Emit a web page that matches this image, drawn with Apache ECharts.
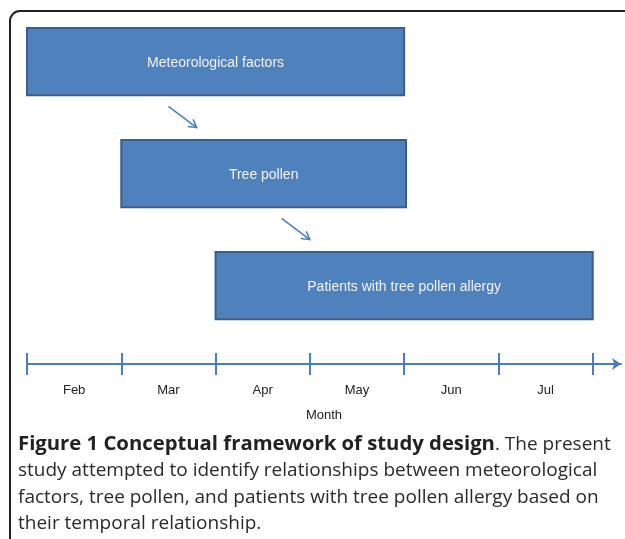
<!DOCTYPE html>
<html>
<head>
<meta charset="utf-8">
<script src="https://cdn.jsdelivr.net/npm/echarts@6/dist/echarts.min.js"></script>
<style>
  html, body { margin: 0; padding: 0; background: #fff; }
  #main { width: 625px; height: 539px; }
</style>
</head>
<body>
<div id="main"></div>
<script>
// timeline months (one band per month)
var months = ['Feb', 'Mar', 'Apr', 'May', 'Jun', 'Jul'];
var tickValues = [0, 1, 2, 3, 4, 5, 6];
var labelValues = [0.5, 1.5, 2.5, 3.5, 4.5, 5.5];

// boxes: label, start month, end month, row
var boxLabels = ['Meteorological factors', 'Tree pollen', 'Patients with tree pollen allergy'];
var boxStart = [0, 1, 2];
var boxEnd = [4, 4.02, 6];
var boxRow = [3, 2, 1];

// arrows between boxes
var arrowFrom = [[1.5, 2.6], [2.7, 1.6]];
var arrowTo = [[1.8, 2.41], [3.0, 1.41]];

var blue = '#4A7EBB';
var boxData = boxLabels.map(function (name, i) {
	return [boxStart[i], boxEnd[i], boxRow[i], name];
});
var arrowData = arrowFrom.map(function (p, i) {
	return [p[0], p[1], arrowTo[i][0], arrowTo[i][1]];
});

var chart = echarts.init(document.getElementById('main'));

chart.setOption({
	animation: false,
	grid: { left: 27, right: 4, top: 5.6, bottom: 175 },
	xAxis: [{
		type: 'value', min: 0, max: 6.3, interval: 1,
		axisLine: { show: true, onZero: false, symbol: ['none', 'arrow'], symbolSize: [9, 9],
			lineStyle: { color: blue, width: 2 } },
		axisTick: { show: true, customValues: tickValues, length: 11, lineStyle: { color: blue, width: 2 } },
		axisLabel: { customValues: labelValues, margin: 20, color: '#222', fontSize: 13,
			fontFamily: 'Liberation Sans, Arial',
			formatter: function (v) { return months[Math.round(v - 0.5)]; } },
		splitLine: { show: false },
		name: 'Month', nameLocation: 'middle', nameGap: 45,
		nameTextStyle: { color: '#222', fontSize: 13, fontFamily: 'Liberation Sans, Arial' }
	}, {
		type: 'value', min: 0, max: 6.3, interval: 1, position: 'bottom', offset: 0,
		axisLine: { show: false, onZero: false },
		axisTick: { show: true, inside: true, customValues: tickValues, length: 11, lineStyle: { color: blue, width: 2 } },
		axisLabel: { show: false },
		splitLine: { show: false }
	}],
	yAxis: { type: 'value', min: 0.3, max: 3.5, show: false },
	graphic: [{
		type: 'rect',
		shape: { x: 10, y: 11, width: 700, height: 600, r: [10, 0, 0, 0] },
		style: { fill: 'none', stroke: '#222', lineWidth: 2 },
		silent: true
	}, {
		type: 'text',
		left: 18, top: 431,
		style: {
			text: '{b|Figure 1 Conceptual framework of study design}. The present\n' +
				'study attempted to identify relationships between meteorological\n' +
				'factors, tree pollen, and patients with tree pollen allergy based on\n' +
				'their temporal relationship.',
			fill: '#2a2a2a',
			fontSize: 19,
			fontFamily: 'Open Sans',
			lineHeight: 26.5,
			rich: {
				b: { fontWeight: 'bold', fontSize: 20.3, fontFamily: 'Open Sans', lineHeight: 26.5, fill: '#222' }
			}
		}
	}],
	series: [{
		type: 'custom',
		data: boxData,
		renderItem: function (params, api) {
			var p0 = api.coord([api.value(0), api.value(2) + 0.3]);
			var p1 = api.coord([api.value(1), api.value(2) - 0.3]);
			return {
				type: 'group',
				children: [{
					type: 'rect',
					shape: { x: p0[0], y: p0[1], width: p1[0] - p0[0], height: p1[1] - p0[1] },
					style: { fill: '#4F81BD', stroke: '#3A5F8B', lineWidth: 2 }
				}, {
					type: 'text',
					x: (p0[0] + p1[0]) / 2, y: (p0[1] + p1[1]) / 2 + 1.5,
					style: { text: boxData[params.dataIndex][3], fill: '#F2F2F2', fontSize: 14,
						fontFamily: 'Liberation Sans, Arial', align: 'center', verticalAlign: 'middle' }
				}]
			};
		}
	}, {
		type: 'custom',
		data: arrowData,
		renderItem: function (params, api) {
			var a = api.coord([api.value(0), api.value(1)]);
			var b = api.coord([api.value(2), api.value(3)]);
			var ang = Math.atan2(b[1] - a[1], b[0] - a[0]);
			var h = 9, s = Math.PI / 6;
			return {
				type: 'group',
				children: [{
					type: 'line',
					shape: { x1: a[0], y1: a[1], x2: b[0], y2: b[1] },
					style: { stroke: blue, lineWidth: 1.5 }
				}, {
					type: 'polyline',
					shape: { points: [
						[b[0] - h * Math.cos(ang - s), b[1] - h * Math.sin(ang - s)],
						b,
						[b[0] - h * Math.cos(ang + s), b[1] - h * Math.sin(ang + s)]
					] },
					style: { stroke: blue, lineWidth: 1.5, fill: 'none' }
				}]
			};
		}
	}]
});
</script>
</body>
</html>
